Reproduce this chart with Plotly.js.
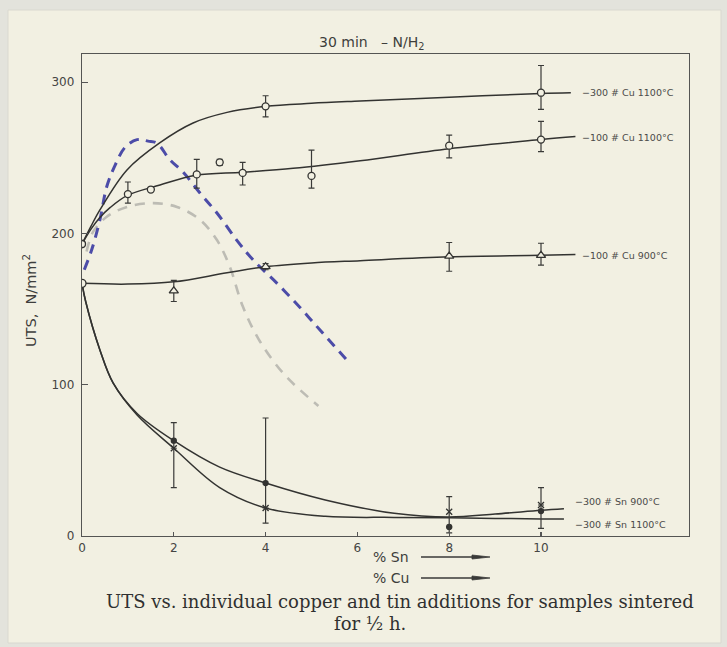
<!DOCTYPE html>
<html>
<head>
<meta charset="utf-8">
<script src="https://cdn.plot.ly/plotly-3.0.1.min.js"></script>
<style>html,body{margin:0;padding:0;background:#e3e3dc;}#chart{width:727px;height:647px;}</style>
</head>
<body>
<div id="chart"></div>
<script>
// ---- tick labels ----
const xTickVals = [0, 2, 4, 6, 8, 10];
const yTickVals = [0, 100, 200, 300];

// ---- -300 # Cu 1100°C ----
const cu300h_x = [0, 4, 10];
const cu300h_y = [193, 284, 293];
const cu300h_errUp = [null, 7, 18];
const cu300h_errDn = [null, 7, 11];
const cu300h_curveX = [0, 0.2, 0.39, 0.98, 1.7, 2.42, 3.16, 4, 5, 6.06, 8, 10, 10.65];
const cu300h_curveY = [193, 205, 215.5, 242, 260, 273, 280, 284, 286, 287.5, 290, 292.5, 293];

// ---- -100 # Cu 1100°C ----
const cu100h_x = [0, 1, 1.5, 2.5, 3, 3.5, 5, 8, 10];
const cu100h_y = [193, 226, 229, 239, 247, 240, 238, 258, 262];
const cu100h_errUp = [null, 8, null, 10, 2, 7, 17, 7, 12];
const cu100h_errDn = [null, 6, null, 9, 2, 8, 8, 8, 8];
const cu100h_curveX = [0, 0.2, 0.39, 0.61, 0.98, 1.7, 2.48, 3.5, 4.6, 6.06, 8, 10, 10.75];
const cu100h_curveY = [193, 203, 210.5, 217, 225, 232, 238.5, 240.5, 243, 248, 256, 262, 264];

// ---- -100 # Cu 900°C ----
const cu100l_x = [0, 2, 4, 8, 10];
const cu100l_y = [167, 162, 178, 185, 185.5];
const cu100l_errUp = [null, 7, 2, 9, 8];
const cu100l_errDn = [null, 7, 2, 10, 6.5];
const cu100l_curveX = [0, 1, 2, 3.16, 4, 5, 6.06, 8, 10, 10.75];
const cu100l_curveY = [167, 166.5, 168, 174, 178, 180.5, 182, 184.5, 185.5, 186];

// ---- -300 # Sn 900°C (dots) ----
const sn900_x = [2, 4, 8, 10];
const sn900_y = [63, 35, 6, 16.5];
const sn900_errUp = [12, 43, null, 15.5];
const sn900_errDn = [31, 26.5, null, 11.5];
const sn900_curveX = [0, 0.08, 0.39, 0.68, 1.2, 2, 3, 4, 5.3, 6.8, 8, 9, 10, 10.5];
const sn900_curveY = [167, 155, 123, 101, 81, 63, 45.5, 35, 23.8, 15, 12.6, 14.5, 17, 18];

// ---- -300 # Sn 1100°C (crosses) ----
const sn1100_x = [2, 4, 8, 10];
const sn1100_y = [58, 18.5, 16, 20.5];
const sn1100_errUp = [null, null, 10, null];
const sn1100_errDn = [null, null, 14, null];
const sn1100_curveX = [0, 0.08, 0.39, 0.68, 1.2, 2, 3, 4, 5.3, 6.8, 8, 9, 10, 10.5];
const sn1100_curveY = [167, 155, 123, 101, 80, 58, 32, 18.5, 13, 12.3, 12, 11.6, 11.3, 11.2];

// ---- hand-drawn dashed curves ----
const blueDashX = [0.05, 0.22, 0.39, 0.54, 0.72, 0.94, 1.2, 1.44, 1.63, 1.92, 2.2, 2.57, 2.94, 3.37, 3.73, 4.25, 4.75, 5.19, 5.77];
const blueDashY = [176, 190, 209, 231, 245, 257, 262, 261, 259.7, 248.5, 240.6, 226.7, 213.5, 195.6, 182.4, 167, 151, 136, 116.3];
const greyDashX = [0.1, 0.24, 0.54, 0.98, 1.55, 2.07, 2.57, 2.94, 3.22, 3.5, 3.85, 4.4, 5.15];
const greyDashY = [188, 201, 211, 217.5, 220, 217.5, 209, 195.6, 178, 152, 130, 107, 86];

// ---- curve labels ----
const labelTexts = ['−300 # Cu 1100°C', '−100 # Cu 1100°C', '−100 # Cu 900°C', '−300 # Sn 900°C', '−300 # Sn 1100°C'];
const labelX = [10.85, 10.85, 10.85, 10.7, 10.7];
const labelY = [293, 263.7, 185.7, 22.5, 7.3];

const INK = '#333331';
const BG = '#f2f0e2';
const NB = '\u00A0';

function curve(x, y) {
  return {x: x, y: y, type: 'scatter', mode: 'lines', hoverinfo: 'skip',
    line: {color: INK, width: 1.5, shape: 'spline', smoothing: 1}};
}
function pts(x, y, up, dn, symbol, size, fill) {
  return {x: x, y: y, type: 'scatter', mode: 'markers', hoverinfo: 'skip',
    marker: {symbol: symbol, size: size, color: fill, line: {color: INK, width: 1.3}},
    error_y: {type: 'data', symmetric: false, array: up, arrayminus: dn,
      color: '#3a3a38', thickness: 1.2, width: 3}};
}

const traces = [
  {x: greyDashX, y: greyDashY, type: 'scatter', mode: 'lines', hoverinfo: 'skip',
    line: {color: '#bdbcb4', width: 2.6, dash: '10px,8px', shape: 'spline'}},
  {x: blueDashX, y: blueDashY, type: 'scatter', mode: 'lines', hoverinfo: 'skip',
    line: {color: '#4c4ca8', width: 3, dash: '10px,7px', shape: 'spline'}},
  curve(cu300h_curveX, cu300h_curveY),
  curve(cu100h_curveX, cu100h_curveY),
  curve(cu100l_curveX, cu100l_curveY),
  curve(sn900_curveX, sn900_curveY),
  curve(sn1100_curveX, sn1100_curveY),
  pts(cu300h_x, cu300h_y, cu300h_errUp, cu300h_errDn, 'circle', 7, BG),
  pts(cu100h_x, cu100h_y, cu100h_errUp, cu100h_errDn, 'circle', 7, BG),
  pts(cu100l_x, cu100l_y, cu100l_errUp, cu100l_errDn,
      cu100l_x.map((v, i) => i === 0 ? 'circle' : 'triangle-up'), 8, BG),
  pts(sn900_x, sn900_y, sn900_errUp, sn900_errDn, 'circle', 5, INK),
  pts(sn1100_x, sn1100_y, sn1100_errUp, sn1100_errDn, 'x-thin-open', 6, INK)
];

// pixel -> paper helpers for decoration placement
const L = 82, R = 689, T = 54, B = 536;
const px = v => (v - L) / (R - L);
const py = v => (B - v) / (B - T);

const annFont = {family: 'DejaVu Sans', size: 9.5, color: '#4a4a48'};
const annotations = labelTexts.map((t, i) => ({
  x: labelX[i], y: labelY[i], xref: 'x', yref: 'y', text: t, showarrow: false,
  xanchor: 'left', yanchor: 'middle', font: annFont
}));

annotations.push(
  {xref: 'paper', yref: 'paper', x: px(371), y: py(43),
   text: '30 min' + NB + NB + NB + '– N/H<sub>2</sub>',
   showarrow: false, xanchor: 'center', yanchor: 'middle',
   font: {family: 'DejaVu Sans', size: 14, color: '#3e3e3c'}},
  {xref: 'paper', yref: 'paper', x: px(30), y: py(300), text: 'UTS,' + NB + NB + 'N/mm<sup>2</sup>',
   textangle: -90, showarrow: false, xanchor: 'center', yanchor: 'middle',
   font: {family: 'DejaVu Sans', size: 14.5, color: '#3e3e3c'}},
  {xref: 'paper', yref: 'paper', x: px(391), y: py(557), text: '% Sn', showarrow: false,
   xanchor: 'center', yanchor: 'middle', font: {family: 'DejaVu Sans', size: 14, color: '#3e3e3c'}},
  {xref: 'paper', yref: 'paper', x: px(391), y: py(578), text: '% Cu', showarrow: false,
   xanchor: 'center', yanchor: 'middle', font: {family: 'DejaVu Sans', size: 14, color: '#3e3e3c'}},
  {xref: 'paper', yref: 'paper', x: px(104), y: py(601),
   text: 'UTS vs. individual copper and tin additions for samples sintered',
   showarrow: false, xanchor: 'left', yanchor: 'middle',
   font: {family: 'DejaVu Serif', size: 18, color: '#303030'}},
  {xref: 'paper', yref: 'paper', x: px(370), y: py(623), text: 'for ½ h.',
   showarrow: false, xanchor: 'center', yanchor: 'middle',
   font: {family: 'DejaVu Serif', size: 18, color: '#303030'}}
);

// arrows beside "% Sn" and "% Cu"
function arrowShapes(yPix) {
  return [
    {type: 'line', xref: 'paper', yref: 'paper', x0: px(421), x1: px(476), y0: py(yPix), y1: py(yPix),
     line: {color: '#3a3a38', width: 1.3}},
    {type: 'path', xref: 'paper', yref: 'paper',
     path: 'M ' + px(472) + ' ' + py(yPix - 2) + ' L ' + px(490) + ' ' + py(yPix) +
           ' L ' + px(472) + ' ' + py(yPix + 2) + ' Z',
     fillcolor: '#3a3a38', line: {color: '#3a3a38', width: 0.8}}
  ];
}

const tickFont = {family: 'DejaVu Sans', size: 12, color: '#454543'};
const layout = {
  width: 727, height: 647,
  margin: {l: L, r: 727 - R, t: T, b: 647 - B},
  paper_bgcolor: '#e3e3dc',
  plot_bgcolor: 'rgba(0,0,0,0)',
  showlegend: false,
  xaxis: {range: [0, (R - L) / 45.9], tickvals: xTickVals, ticktext: xTickVals.map(String),
    ticks: 'inside', ticklen: 4, tickwidth: 1.2, tickcolor: '#555',
    showline: true, mirror: true, linecolor: '#555553', linewidth: 1.3,
    showgrid: false, zeroline: false, tickfont: tickFont, fixedrange: true},
  yaxis: {range: [0, (B - T) / 1.5129], tickvals: yTickVals, ticktext: yTickVals.map(String),
    ticks: 'inside', ticklen: 6, tickwidth: 1.2, tickcolor: '#555', ticklabelstandoff: 4,
    showline: true, mirror: true, linecolor: '#555553', linewidth: 1.3,
    showgrid: false, zeroline: false, tickfont: tickFont, fixedrange: true},
  shapes: [
    {type: 'rect', xref: 'paper', yref: 'paper', layer: 'below',
     x0: px(8), x1: px(721), y0: py(643), y1: py(10),
     fillcolor: BG, line: {color: '#d9d8d0', width: 1}}
  ].concat(arrowShapes(557), arrowShapes(578)),
  annotations: annotations
};

Plotly.newPlot('chart', traces, layout, {displayModeBar: false, staticPlot: true});
</script>
</body>
</html>
